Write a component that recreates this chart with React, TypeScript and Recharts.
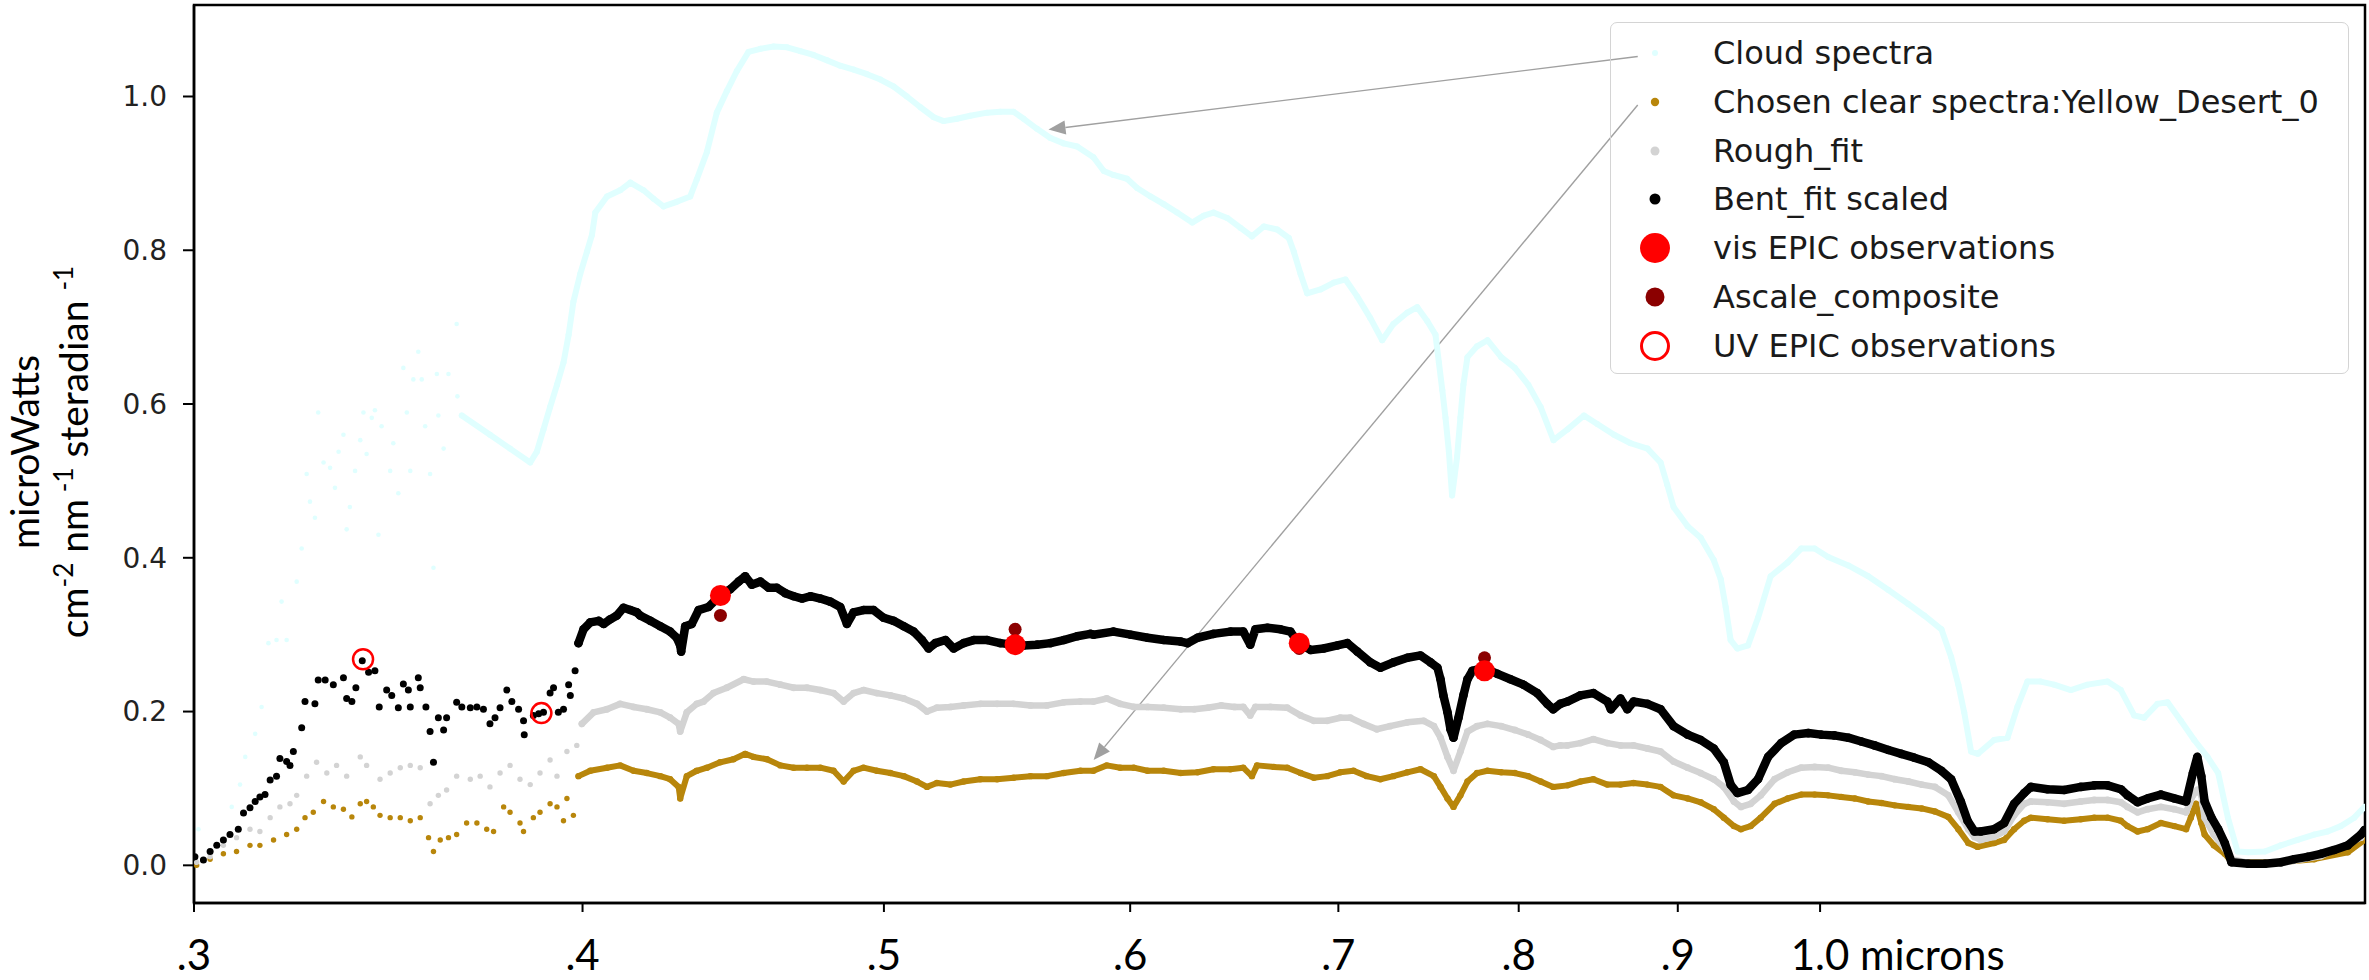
import React from "react";
import {
  ScatterChart,
  Scatter,
  XAxis,
  YAxis,
  ReferenceArea,
  ReferenceLine,
  Legend,
} from "recharts";

type Pt = [number, number];

// [wavelength (microns), radiance (microWatts cm-2 nm-1 sr-1)]

// cloud spectrum: noisy UV part, then the continuous curve
const cloudSparse: Pt[] = [
  [0.301, 0.047], [0.3085, 0.076], [0.3104, 0.105], [0.3116, 0.141], [0.3139, 0.171],
  [0.3154, 0.206], [0.317, 0.289], [0.3189, 0.293], [0.3201, 0.343], [0.3213, 0.293],
  [0.3237, 0.369], [0.3249, 0.412], [0.3261, 0.509], [0.3269, 0.473], [0.3281, 0.452],
  [0.3289, 0.589], [0.3302, 0.524], [0.3318, 0.517], [0.333, 0.491], [0.3339, 0.538],
  [0.3351, 0.56], [0.3359, 0.437], [0.3367, 0.466], [0.338, 0.513], [0.3393, 0.553],
  [0.3401, 0.589], [0.3409, 0.535], [0.3422, 0.582], [0.343, 0.592], [0.3439, 0.43],
  [0.3447, 0.571], [0.3469, 0.513], [0.3477, 0.549], [0.349, 0.484], [0.3503, 0.647],
  [0.3512, 0.589], [0.3521, 0.513], [0.3529, 0.632], [0.3542, 0.668], [0.3551, 0.632],
  [0.356, 0.571], [0.3573, 0.509], [0.3582, 0.387], [0.3591, 0.639], [0.3595, 0.585],
  [0.3609, 0.542], [0.3622, 0.639], [0.3644, 0.704], [0.3646, 0.61],
];
const cloudSpectrum: Pt[] = [
  [0.3658, 0.585], [0.3735, 0.56], [0.3791, 0.542], [0.3848, 0.524], [0.3867, 0.538],
  [0.3886, 0.567], [0.3905, 0.596], [0.3925, 0.625], [0.3944, 0.654], [0.3959, 0.69],
  [0.3973, 0.733], [0.3993, 0.769], [0.4013, 0.798], [0.4028, 0.82], [0.4038, 0.849],
  [0.4073, 0.87], [0.4113, 0.878], [0.4144, 0.888], [0.4185, 0.878], [0.4216, 0.867],
  [0.4247, 0.857], [0.4289, 0.863], [0.4332, 0.87], [0.4353, 0.892], [0.4386, 0.928],
  [0.4418, 0.979], [0.4451, 1.007], [0.4484, 1.033], [0.4523, 1.058], [0.4563, 1.062],
  [0.4608, 1.065], [0.4654, 1.064], [0.47, 1.059], [0.4746, 1.054], [0.4794, 1.047],
  [0.4841, 1.04], [0.4889, 1.035], [0.4938, 1.029], [0.4987, 1.022], [0.5036, 1.013],
  [0.5086, 1.0], [0.5137, 0.986], [0.5188, 0.973], [0.5226, 0.968], [0.5278, 0.971],
  [0.533, 0.975], [0.5397, 0.979], [0.545, 0.98], [0.5504, 0.98], [0.5545, 0.971],
  [0.56, 0.958], [0.5656, 0.946], [0.5712, 0.939], [0.5769, 0.935], [0.5839, 0.921],
  [0.5884, 0.903], [0.5926, 0.898], [0.5986, 0.893], [0.6031, 0.881], [0.6091, 0.87],
  [0.6151, 0.86], [0.6212, 0.849], [0.6282, 0.836], [0.6336, 0.845], [0.6382, 0.849],
  [0.6447, 0.842], [0.6511, 0.829], [0.6566, 0.818], [0.6624, 0.831], [0.669, 0.827],
  [0.6748, 0.816], [0.6773, 0.798], [0.6807, 0.769], [0.684, 0.744], [0.6908, 0.749],
  [0.6977, 0.758], [0.7037, 0.762], [0.7098, 0.74], [0.7167, 0.712], [0.7231, 0.683],
  [0.7291, 0.704], [0.7367, 0.719], [0.7421, 0.726], [0.7476, 0.708], [0.7522, 0.69],
  [0.7541, 0.654], [0.756, 0.618], [0.7578, 0.582], [0.7597, 0.538], [0.7615, 0.481],
  [0.7643, 0.531], [0.7662, 0.582], [0.7679, 0.625], [0.7702, 0.661], [0.7757, 0.675],
  [0.7817, 0.683], [0.7897, 0.661], [0.7977, 0.647], [0.8057, 0.625], [0.8131, 0.596],
  [0.8209, 0.553], [0.8294, 0.567], [0.8396, 0.585], [0.8479, 0.574], [0.8585, 0.56],
  [0.8691, 0.549], [0.88, 0.542], [0.8886, 0.524], [0.893, 0.495], [0.8972, 0.466],
  [0.9066, 0.441], [0.9154, 0.426], [0.9243, 0.397], [0.9291, 0.372], [0.9325, 0.336],
  [0.9359, 0.293], [0.9406, 0.282], [0.948, 0.286], [0.9551, 0.322], [0.9641, 0.376],
  [0.9763, 0.394], [0.9861, 0.412], [0.996, 0.412], [1.006, 0.401], [1.0211, 0.39],
  [1.0363, 0.376], [1.0519, 0.358], [1.0675, 0.34], [1.0801, 0.325], [1.094, 0.307],
  [1.1019, 0.271], [1.1078, 0.235], [1.1126, 0.199], [1.1183, 0.148], [1.124, 0.145],
  [1.1375, 0.163], [1.1489, 0.166], [1.1573, 0.206], [1.1659, 0.239], [1.1775, 0.239],
  [1.1892, 0.235], [1.204, 0.228], [1.2189, 0.235], [1.2372, 0.239], [1.2494, 0.228],
  [1.2618, 0.195], [1.2712, 0.192], [1.2838, 0.21], [1.2934, 0.212], [1.3062, 0.188],
  [1.3192, 0.163], [1.3322, 0.141], [1.3428, 0.12], [1.3525, 0.062], [1.3622, 0.018],
  [1.373, 0.017], [1.3901, 0.018], [1.4066, 0.026], [1.4241, 0.033], [1.4418, 0.04],
  [1.4561, 0.044], [1.4705, 0.051], [1.4851, 0.062], [1.4965, 0.076],
];

// chosen clear spectrum (Yellow_Desert_0)
const clearSparse: Pt[] = [
  [0.3006, 0.0], [0.3036, 0.008], [0.3066, 0.015], [0.3096, 0.018], [0.3127, 0.026],
  [0.315, 0.026], [0.3182, 0.033], [0.3213, 0.04], [0.3237, 0.047], [0.3257, 0.062],
  [0.3277, 0.069], [0.3302, 0.083], [0.3326, 0.076], [0.3351, 0.073], [0.3372, 0.063],
  [0.3393, 0.08], [0.3409, 0.083], [0.3426, 0.076], [0.3443, 0.065], [0.3469, 0.062],
  [0.3495, 0.062], [0.3521, 0.058], [0.3547, 0.062], [0.3569, 0.036], [0.3582, 0.018],
  [0.36, 0.033], [0.3622, 0.036], [0.3644, 0.04], [0.3671, 0.055], [0.3699, 0.055],
  [0.3726, 0.047], [0.3745, 0.044], [0.3773, 0.076], [0.3791, 0.069], [0.3819, 0.055],
  [0.3829, 0.044], [0.3857, 0.062], [0.3876, 0.069], [0.3905, 0.08], [0.3925, 0.076],
  [0.3944, 0.058], [0.3954, 0.087], [0.3973, 0.065],
];
const clearSpectrum: Pt[] = [
  [0.3988, 0.116], [0.4023, 0.123], [0.4073, 0.127], [0.4113, 0.13], [0.4154, 0.123],
  [0.4195, 0.12], [0.4237, 0.116], [0.4268, 0.112], [0.4295, 0.102], [0.43, 0.087],
  [0.4321, 0.116], [0.4353, 0.123], [0.4386, 0.127], [0.4429, 0.134], [0.4473, 0.138],
  [0.4512, 0.145], [0.454, 0.141], [0.4585, 0.138], [0.4631, 0.13], [0.4677, 0.127],
  [0.4723, 0.127], [0.477, 0.127], [0.4817, 0.123], [0.4853, 0.109], [0.4889, 0.123],
  [0.4925, 0.127], [0.4974, 0.123], [0.5024, 0.12], [0.5074, 0.116], [0.5124, 0.109],
  [0.5162, 0.102], [0.52, 0.107], [0.5252, 0.105], [0.5304, 0.109], [0.537, 0.112],
  [0.5437, 0.112], [0.5504, 0.114], [0.5573, 0.116], [0.5642, 0.116], [0.5712, 0.12],
  [0.5783, 0.123], [0.5839, 0.123], [0.5897, 0.13], [0.5956, 0.127], [0.6016, 0.127],
  [0.6078, 0.123], [0.6151, 0.123], [0.6229, 0.12], [0.6307, 0.121], [0.6382, 0.125],
  [0.6462, 0.125], [0.6524, 0.127], [0.6566, 0.116], [0.6591, 0.13], [0.6674, 0.128],
  [0.674, 0.127], [0.6807, 0.12], [0.6874, 0.114], [0.6942, 0.116], [0.701, 0.121],
  [0.7079, 0.123], [0.7149, 0.116], [0.7221, 0.112], [0.7291, 0.116], [0.7367, 0.121],
  [0.7439, 0.125], [0.7513, 0.116], [0.755, 0.102], [0.7589, 0.087], [0.7623, 0.076],
  [0.7662, 0.091], [0.7702, 0.109], [0.7757, 0.12], [0.7817, 0.123], [0.7897, 0.121],
  [0.7977, 0.12], [0.8057, 0.116], [0.8131, 0.109], [0.8207, 0.102], [0.8294, 0.104],
  [0.8374, 0.109], [0.8455, 0.112], [0.8543, 0.105], [0.8626, 0.105], [0.871, 0.107],
  [0.88, 0.105], [0.8886, 0.102], [0.8972, 0.091], [0.9066, 0.087], [0.9154, 0.082],
  [0.9243, 0.073], [0.9312, 0.062], [0.9382, 0.051], [0.9431, 0.047], [0.9499, 0.051],
  [0.957, 0.062], [0.9669, 0.08], [0.9763, 0.087], [0.9861, 0.092], [0.996, 0.092],
  [1.006, 0.091], [1.0158, 0.089], [1.026, 0.087], [1.0363, 0.083], [1.0465, 0.081],
  [1.0569, 0.078], [1.0675, 0.076], [1.0781, 0.074], [1.0888, 0.07], [1.0996, 0.063],
  [1.1078, 0.047], [1.116, 0.029], [1.1237, 0.024], [1.1375, 0.029], [1.146, 0.033],
  [1.1545, 0.047], [1.1631, 0.058], [1.1689, 0.062], [1.1833, 0.06], [1.198, 0.058],
  [1.2129, 0.06], [1.225, 0.062], [1.2372, 0.062], [1.2494, 0.058], [1.2556, 0.051],
  [1.265, 0.044], [1.2744, 0.047], [1.287, 0.055], [1.2999, 0.051], [1.3113, 0.047],
  [1.3159, 0.062], [1.3209, 0.08], [1.3261, 0.055], [1.3294, 0.04], [1.3385, 0.026],
  [1.3494, 0.015], [1.3561, 0.005], [1.373, 0.004], [1.4066, 0.004], [1.4418, 0.008],
  [1.4781, 0.017], [1.4965, 0.033],
];

// rough fit
const roughSparse: Pt[] = [
  [0.3006, 0.004], [0.3036, 0.011], [0.3066, 0.026], [0.3096, 0.036], [0.3127, 0.047],
  [0.315, 0.044], [0.3174, 0.062], [0.3197, 0.076], [0.3221, 0.08], [0.3237, 0.091],
  [0.3261, 0.116], [0.3285, 0.134], [0.331, 0.12], [0.3334, 0.13], [0.3359, 0.116],
  [0.3393, 0.141], [0.3409, 0.13], [0.3443, 0.112], [0.3469, 0.12], [0.3495, 0.127],
  [0.3521, 0.13], [0.3547, 0.127], [0.3573, 0.08], [0.3595, 0.091], [0.3617, 0.098],
  [0.3644, 0.116], [0.3681, 0.112], [0.3708, 0.116], [0.3735, 0.102], [0.3763, 0.12],
  [0.3791, 0.13], [0.3819, 0.112], [0.3848, 0.105], [0.3876, 0.12], [0.3905, 0.137],
  [0.3925, 0.116], [0.3954, 0.148], [0.3983, 0.156],
];
const roughFit: Pt[] = [
  [0.3998, 0.184], [0.4033, 0.199], [0.4073, 0.203], [0.4113, 0.21], [0.4154, 0.206],
  [0.4195, 0.203], [0.4237, 0.199], [0.4268, 0.192], [0.4295, 0.184], [0.43, 0.174],
  [0.4321, 0.199], [0.4353, 0.21], [0.4375, 0.213], [0.4407, 0.224], [0.4451, 0.231],
  [0.4507, 0.242], [0.454, 0.239], [0.4585, 0.239], [0.4631, 0.235], [0.4677, 0.231],
  [0.4723, 0.231], [0.477, 0.228], [0.4817, 0.224], [0.4853, 0.213], [0.4889, 0.224],
  [0.4925, 0.228], [0.4974, 0.224], [0.5024, 0.221], [0.5074, 0.217], [0.5124, 0.21],
  [0.5162, 0.2], [0.52, 0.205], [0.5252, 0.206], [0.5304, 0.208], [0.537, 0.21],
  [0.5437, 0.21], [0.5504, 0.21], [0.5573, 0.208], [0.5642, 0.208], [0.5712, 0.212],
  [0.5783, 0.213], [0.5839, 0.213], [0.5897, 0.217], [0.5956, 0.21], [0.6016, 0.206],
  [0.6078, 0.206], [0.6151, 0.205], [0.6229, 0.203], [0.6292, 0.203], [0.6355, 0.205],
  [0.6419, 0.208], [0.6482, 0.206], [0.6524, 0.206], [0.6558, 0.195], [0.6583, 0.206],
  [0.6657, 0.206], [0.674, 0.205], [0.6807, 0.195], [0.6874, 0.188], [0.6942, 0.188],
  [0.701, 0.192], [0.7062, 0.192], [0.7131, 0.184], [0.7202, 0.177], [0.7273, 0.181],
  [0.7367, 0.186], [0.7457, 0.188], [0.7513, 0.181], [0.755, 0.166], [0.7589, 0.141],
  [0.7623, 0.123], [0.7662, 0.148], [0.7702, 0.174], [0.7757, 0.181], [0.7817, 0.184],
  [0.7897, 0.181], [0.7977, 0.176], [0.8057, 0.17], [0.8131, 0.163], [0.8207, 0.154],
  [0.825, 0.156], [0.8294, 0.156], [0.8374, 0.159], [0.8455, 0.164], [0.8543, 0.159],
  [0.8626, 0.156], [0.871, 0.156], [0.88, 0.152], [0.8886, 0.148], [0.8972, 0.135],
  [0.9066, 0.127], [0.9154, 0.12], [0.9243, 0.112], [0.9312, 0.102], [0.9382, 0.083],
  [0.9431, 0.076], [0.9499, 0.08], [0.957, 0.091], [0.9669, 0.112], [0.9763, 0.121],
  [0.9861, 0.127], [0.996, 0.128], [1.006, 0.127], [1.0158, 0.123], [1.026, 0.121],
  [1.0363, 0.118], [1.0465, 0.116], [1.0569, 0.112], [1.0675, 0.109], [1.0781, 0.105],
  [1.0888, 0.102], [1.0996, 0.091], [1.1078, 0.069], [1.116, 0.047], [1.1211, 0.037],
  [1.1264, 0.033], [1.1375, 0.037], [1.146, 0.044], [1.1545, 0.065], [1.1631, 0.08],
  [1.1689, 0.083], [1.1833, 0.082], [1.198, 0.08], [1.2129, 0.083], [1.225, 0.085],
  [1.2372, 0.085], [1.2494, 0.082], [1.2556, 0.076], [1.265, 0.069], [1.2744, 0.073],
  [1.287, 0.076], [1.2999, 0.073], [1.3113, 0.069], [1.3179, 0.091], [1.3222, 0.098],
  [1.3261, 0.091], [1.3294, 0.062], [1.3385, 0.04], [1.3494, 0.022], [1.3561, 0.008],
  [1.373, 0.003], [1.4066, 0.003], [1.4489, 0.012], [1.4925, 0.036],
];

// bent fit, scaled
const bentSparse: Pt[] = [
  [0.3002, 0.011], [0.3021, 0.007], [0.3036, 0.018], [0.3051, 0.026], [0.3066, 0.033],
  [0.3081, 0.04], [0.31, 0.047], [0.3112, 0.068], [0.3127, 0.075], [0.3139, 0.083],
  [0.315, 0.089], [0.3162, 0.092], [0.3174, 0.111], [0.3189, 0.116], [0.3197, 0.139],
  [0.3213, 0.135], [0.3221, 0.13], [0.3229, 0.148], [0.3249, 0.179], [0.3257, 0.213],
  [0.3281, 0.21], [0.3289, 0.241], [0.3306, 0.241], [0.3326, 0.235], [0.3351, 0.244],
  [0.3359, 0.217], [0.3372, 0.213], [0.3382, 0.231], [0.3398, 0.266], [0.3414, 0.251],
  [0.343, 0.253], [0.3441, 0.206], [0.346, 0.228], [0.3473, 0.221], [0.349, 0.205],
  [0.3503, 0.236], [0.3516, 0.228], [0.3521, 0.206], [0.3542, 0.244], [0.3547, 0.231],
  [0.3562, 0.206], [0.3573, 0.174], [0.3582, 0.134], [0.3595, 0.192], [0.3609, 0.176],
  [0.3617, 0.192], [0.3644, 0.212], [0.3658, 0.206], [0.3681, 0.205], [0.3699, 0.206],
  [0.3717, 0.203], [0.3735, 0.184], [0.3749, 0.192], [0.3763, 0.205], [0.3782, 0.228],
  [0.3796, 0.213], [0.3815, 0.203], [0.3829, 0.188], [0.3831, 0.17], [0.3857, 0.195],
  [0.3872, 0.197], [0.3886, 0.199], [0.3905, 0.224], [0.3915, 0.231], [0.3929, 0.199],
  [0.3944, 0.203], [0.3959, 0.235], [0.3964, 0.221], [0.3978, 0.253],
];
const bentFit: Pt[] = [
  [0.3988, 0.289], [0.4003, 0.307], [0.4023, 0.316], [0.4048, 0.318], [0.4063, 0.314],
  [0.4083, 0.32], [0.4103, 0.325], [0.4123, 0.335], [0.4144, 0.332], [0.4164, 0.329],
  [0.4174, 0.325], [0.4206, 0.318], [0.4237, 0.311], [0.4268, 0.304], [0.4289, 0.296],
  [0.43, 0.286], [0.4303, 0.278], [0.4316, 0.311], [0.4337, 0.314], [0.4359, 0.332],
  [0.4391, 0.336], [0.4429, 0.351], [0.4462, 0.359], [0.449, 0.369], [0.4512, 0.376],
  [0.4534, 0.365], [0.4563, 0.369], [0.4591, 0.361], [0.4619, 0.361], [0.4648, 0.354],
  [0.4677, 0.35], [0.4706, 0.347], [0.4735, 0.35], [0.477, 0.347], [0.4805, 0.343],
  [0.4841, 0.336], [0.4865, 0.314], [0.4889, 0.329], [0.4925, 0.332], [0.4962, 0.332],
  [0.4999, 0.322], [0.5036, 0.318], [0.5074, 0.311], [0.5111, 0.304], [0.5143, 0.293],
  [0.5168, 0.282], [0.5194, 0.289], [0.5233, 0.293], [0.5265, 0.282], [0.5304, 0.289],
  [0.5344, 0.293], [0.5397, 0.293], [0.545, 0.289], [0.5504, 0.287], [0.5545, 0.286],
  [0.56, 0.287], [0.5656, 0.289], [0.5712, 0.293], [0.5769, 0.298], [0.5826, 0.301],
  [0.5839, 0.3], [0.5926, 0.304], [0.6002, 0.3], [0.6078, 0.296], [0.6151, 0.293],
  [0.6229, 0.291], [0.626, 0.289], [0.6307, 0.296], [0.6382, 0.301], [0.6462, 0.304],
  [0.6524, 0.304], [0.6558, 0.287], [0.6583, 0.307], [0.6642, 0.309], [0.6706, 0.307],
  [0.6756, 0.304], [0.6797, 0.289], [0.6858, 0.28], [0.6924, 0.282], [0.6995, 0.286],
  [0.7047, 0.289], [0.7099, 0.278], [0.7167, 0.264], [0.7221, 0.257], [0.7291, 0.264],
  [0.7367, 0.27], [0.7439, 0.273], [0.7494, 0.264], [0.7533, 0.257], [0.755, 0.242],
  [0.7566, 0.221], [0.7589, 0.199], [0.7606, 0.177], [0.7623, 0.166], [0.7651, 0.192],
  [0.7679, 0.221], [0.7702, 0.242], [0.773, 0.253], [0.7794, 0.257], [0.7875, 0.249],
  [0.7951, 0.242], [0.8028, 0.235], [0.8111, 0.224], [0.8171, 0.21], [0.8207, 0.203],
  [0.825, 0.21], [0.8294, 0.213], [0.8374, 0.221], [0.8455, 0.224], [0.8543, 0.213],
  [0.8565, 0.203], [0.8626, 0.217], [0.867, 0.203], [0.871, 0.213], [0.88, 0.21],
  [0.8886, 0.203], [0.8972, 0.181], [0.9066, 0.17], [0.9154, 0.163], [0.9243, 0.152],
  [0.9312, 0.134], [0.9359, 0.105], [0.9406, 0.094], [0.948, 0.098], [0.9551, 0.112],
  [0.9622, 0.141], [0.9716, 0.159], [0.981, 0.17], [0.9913, 0.172], [1.0009, 0.17],
  [1.0106, 0.169], [1.0211, 0.166], [1.031, 0.161], [1.0411, 0.156], [1.0519, 0.15],
  [1.062, 0.145], [1.0723, 0.14], [1.0835, 0.134], [1.094, 0.123], [1.1019, 0.112],
  [1.1098, 0.083], [1.1154, 0.058], [1.1211, 0.044], [1.1264, 0.044], [1.1375, 0.047],
  [1.146, 0.055], [1.1545, 0.08], [1.1631, 0.094], [1.1689, 0.102], [1.1833, 0.099],
  [1.198, 0.098], [1.2129, 0.102], [1.225, 0.104], [1.2372, 0.104], [1.2494, 0.099],
  [1.2556, 0.091], [1.265, 0.082], [1.2744, 0.087], [1.287, 0.092], [1.2999, 0.087],
  [1.3113, 0.083], [1.3179, 0.12], [1.3222, 0.141], [1.3261, 0.116], [1.3294, 0.083],
  [1.3361, 0.062], [1.3428, 0.047], [1.3494, 0.029], [1.3561, 0.004], [1.373, 0.002],
  [1.3901, 0.002], [1.4066, 0.004], [1.4205, 0.008], [1.4346, 0.011], [1.4489, 0.015],
  [1.4633, 0.02], [1.4781, 0.026], [1.4925, 0.04], [1.4965, 0.046],
];

// EPIC channels
const visEpic: Pt[] = [[0.443, 0.351], [0.551, 0.287], [0.68, 0.289], [0.78, 0.253]];
const ascaleComposite: Pt[] = [[0.443, 0.325], [0.551, 0.307], [0.68, 0.282], [0.78, 0.27]];
const uvEpic: Pt[] = [[0.34, 0.268], [0.388, 0.198]];

// annotation arrows: legend marker -> curve
const arrowTails: Pt[] = [[0.8737, 1.052], [0.8737, 0.989]];
const arrowHeads: Pt[] = [[0.5648, 0.957], [0.584, 0.137]];

const xTicks = [0.3, 0.4, 0.5, 0.6, 0.7, 0.8, 0.9, 1.0];
const xTickLabels = [".3", ".4", ".5", ".6", ".7", ".8", ".9", "1.0 microns"];
const yTicks = [0, 0.2, 0.4, 0.6, 0.8, 1.0];

const X_DOMAIN: [number, number] = [0.3, 1.497];
const Y_DOMAIN: [number, number] = [-0.049, 1.119];

const C = {
  cloud: "#E0FFFF",
  clear: "#B8860B",
  rough: "#D3D3D3",
  bent: "#000000",
  vis: "#FF0000",
  ascale: "#8B0000",
  arrow: "#A0A0A0",
};

const toXY = (pts: Pt[]) => pts.map(([x, y]) => ({ x, y }));

const dot = (r: number, fill: string) => (p: any) =>
  <circle cx={p.cx} cy={p.cy} r={r} fill={fill} />;
const ring = (r: number, stroke: string) => (p: any) =>
  <circle cx={p.cx} cy={p.cy} r={r} fill="none" stroke={stroke} strokeWidth={2.5} />;

// thick polyline through the scatter points (the spectra are densely sampled)
const trace = (stroke: string, width: number) => (p: any) => (
  <polyline
    points={(p.points || []).map((q: any) => `${q.x},${q.y}`).join(" ")}
    fill="none"
    stroke={stroke}
    strokeWidth={width}
    strokeLinejoin="round"
    strokeLinecap="round"
  />
);

function Arrow(props: any) {
  const { x1, y1, x2, y2 } = props;
  const a = Math.atan2(y2 - y1, x2 - x1);
  const len = 17;
  const half = 7;
  const bx = x2 - len * Math.cos(a);
  const by = y2 - len * Math.sin(a);
  const px = -Math.sin(a) * half;
  const py = Math.cos(a) * half;
  return (
    <g>
      <line x1={x1} y1={y1} x2={bx} y2={by} stroke={C.arrow} strokeWidth={1.4} />
      <polygon points={`${x2},${y2} ${bx + px},${by + py} ${bx - px},${by - py}`} fill={C.arrow} />
    </g>
  );
}

function XTick({ x, y, payload }: any) {
  const label = xTickLabels[xTicks.indexOf(payload.value)] ?? "";
  const wide = label.length > 2;
  return (
    <text
      x={x}
      y={y + 56}
      dx={wide ? "-0.7em" : 0}
      textAnchor={wide ? "start" : "middle"}
      fontFamily="Lato, sans-serif"
      fontSize={42}
      fill="#000"
    >
      {label}
    </text>
  );
}

function YTitle() {
  const cy = 452;
  const x1 = 39;
  const x2 = 88;
  const font = { fontFamily: "Lato, sans-serif", fontSize: 39, fill: "#000" };
  return (
    <g>
      <text x={x1} y={cy} transform={`rotate(-90 ${x1} ${cy})`} textAnchor="middle" {...font}>
        microWatts
      </text>
      <text x={x2} y={cy} transform={`rotate(-90 ${x2} ${cy})`} textAnchor="middle" {...font}>
        cm
        <tspan dy={-15} fontSize={26}>-2</tspan>
        <tspan dy={15}> nm</tspan>
        <tspan dy={-15} fontSize={26}> -1</tspan>
        <tspan dy={15}> steradian </tspan>
        <tspan dy={-15} fontSize={26}>-1</tspan>
      </text>
    </g>
  );
}

const legendItems = [
  { label: "Cloud spectra", marker: <circle cx={20} cy={20} r={3} fill={C.cloud} /> },
  { label: "Chosen clear spectra:Yellow_Desert_0", marker: <circle cx={20} cy={20} r={4.2} fill={C.clear} /> },
  { label: "Rough_fit", marker: <circle cx={20} cy={20} r={4.5} fill={C.rough} /> },
  { label: "Bent_fit scaled", marker: <circle cx={20} cy={20} r={5.5} fill={C.bent} /> },
  { label: "vis EPIC observations", marker: <circle cx={20} cy={20} r={15} fill={C.vis} /> },
  { label: "Ascale_composite", marker: <circle cx={20} cy={20} r={9.5} fill={C.ascale} /> },
  {
    label: "UV EPIC observations",
    marker: <circle cx={20} cy={20} r={13.5} fill="none" stroke={C.vis} strokeWidth={3} />,
  },
];

function LegendBox() {
  return (
    <div
      style={{
        position: "relative",
        width: 739,
        height: 352,
        boxSizing: "border-box",
        border: "1.5px solid #d4d4d4",
        borderRadius: 7,
        fontFamily: "'DejaVu Sans', sans-serif",
        fontSize: 32,
        color: "#1a1a1a",
      }}
    >
      {legendItems.map((it, i) => (
        <div
          key={it.label}
          style={{
            position: "absolute",
            left: 0,
            top: 30 + i * 48.8 - 20,
            height: 40,
            display: "flex",
            alignItems: "center",
            whiteSpace: "nowrap",
          }}
        >
          <svg width={40} height={40} style={{ marginLeft: 24, overflow: "visible" }}>
            {it.marker}
          </svg>
          <span style={{ marginLeft: 38 }}>{it.label}</span>
        </div>
      ))}
    </div>
  );
}

export default function App() {
  return (
    <div style={{ position: "absolute", left: 0, top: 0, background: "#fff" }}>
      <ScatterChart width={2369} height={980} margin={{ top: 5, right: 4, bottom: 0, left: 0 }}>
        <XAxis
          type="number"
          dataKey="x"
          scale="log"
          domain={X_DOMAIN}
          allowDataOverflow
          ticks={xTicks}
          interval={0}
          height={77}
          tickSize={9}
          axisLine={{ stroke: "#000", strokeWidth: 2.5 }}
          tickLine={{ stroke: "#000", strokeWidth: 2 }}
          tick={<XTick />}
        />
        <YAxis
          type="number"
          dataKey="y"
          domain={Y_DOMAIN}
          allowDataOverflow
          ticks={yTicks}
          interval={0}
          width={194}
          tickSize={11}
          tickMargin={16}
          tickFormatter={(v: number) => v.toFixed(1)}
          axisLine={{ stroke: "#000", strokeWidth: 2.5 }}
          tickLine={{ stroke: "#000", strokeWidth: 2 }}
          tick={{ fontFamily: "'DejaVu Sans', sans-serif", fontSize: 28, fill: "#222" }}
          label={<YTitle />}
        />
        <ReferenceArea
          x1={X_DOMAIN[0]}
          x2={X_DOMAIN[1]}
          y1={Y_DOMAIN[0]}
          y2={Y_DOMAIN[1]}
          ifOverflow="visible"
          fill="none"
          stroke="#000"
          strokeWidth={2.5}
        />

        <Scatter data={toXY(cloudSparse)} fill={C.cloud} shape={dot(2.3, C.cloud)} isAnimationActive={false} />
        <Scatter
          data={toXY(cloudSpectrum)}
          fill={C.cloud}
          shape={dot(3, C.cloud)}
          line={trace(C.cloud, 6)}
          isAnimationActive={false}
        />

        <Scatter data={toXY(clearSparse)} fill={C.clear} shape={dot(2.7, C.clear)} isAnimationActive={false} />
        <Scatter
          data={toXY(clearSpectrum)}
          fill={C.clear}
          shape={dot(3.2, C.clear)}
          line={trace(C.clear, 6)}
          isAnimationActive={false}
        />

        <Scatter data={toXY(roughSparse)} fill={C.rough} shape={dot(2.7, C.rough)} isAnimationActive={false} />
        <Scatter
          data={toXY(roughFit)}
          fill={C.rough}
          shape={dot(3.4, C.rough)}
          line={trace(C.rough, 6.5)}
          isAnimationActive={false}
        />

        <Scatter data={toXY(bentSparse)} fill={C.bent} shape={dot(3.5, C.bent)} isAnimationActive={false} />
        <Scatter
          data={toXY(bentFit)}
          fill={C.bent}
          shape={dot(4.3, C.bent)}
          line={trace(C.bent, 8.5)}
          isAnimationActive={false}
        />

        <Scatter data={toXY(ascaleComposite)} fill={C.ascale} shape={dot(6.5, C.ascale)} isAnimationActive={false} />
        <Scatter data={toXY(visEpic)} fill={C.vis} shape={dot(10.5, C.vis)} isAnimationActive={false} />
        <Scatter data={toXY(uvEpic)} fill="none" shape={ring(10, C.vis)} isAnimationActive={false} />

        {arrowTails.map((t, i) => (
          <ReferenceLine
            key={i}
            segment={[
              { x: t[0], y: t[1] },
              { x: arrowHeads[i][0], y: arrowHeads[i][1] },
            ]}
            ifOverflow="visible"
            shape={<Arrow />}
          />
        ))}

        <Legend
          layout="vertical"
          align="center"
          verticalAlign="middle"
          width={739}
          height={352}
          wrapperStyle={{ position: "absolute", left: 1610, top: 22, width: 739, height: 352 }}
          content={() => <LegendBox />}
        />
      </ScatterChart>
    </div>
  );
}
